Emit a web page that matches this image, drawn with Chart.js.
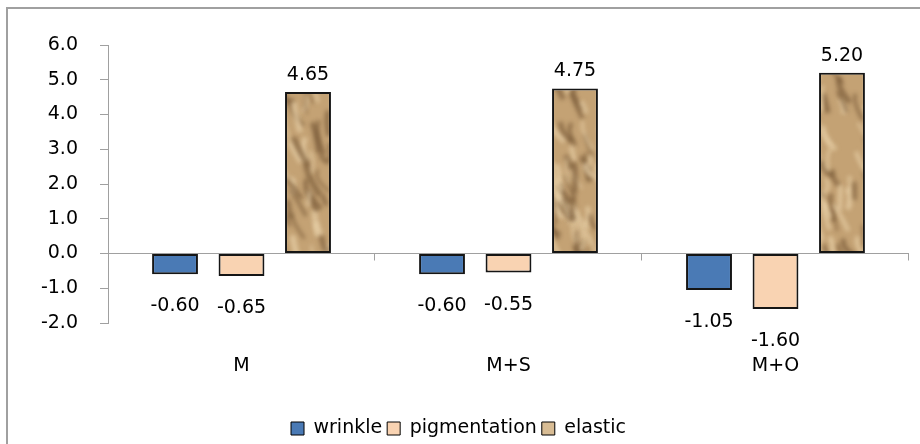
<!DOCTYPE html>
<html>
<head>
<meta charset="utf-8">
<script src="https://cdn.jsdelivr.net/npm/chart.js@4.4.1/dist/chart.umd.min.js"></script>
<style>
  html, body { margin: 0; padding: 0; background: #fff; overflow: hidden; }
  #wrap { position: relative; width: 920px; height: 444px; }
</style>
</head>
<body>
<div id="wrap"><canvas id="chart"></canvas></div>
<script>
const categories = ['M', 'M+S', 'M+O'];
const wrinkle = [-0.60, -0.60, -1.05];
const pigmentation = [-0.65, -0.55, -1.60];
const elastic = [4.65, 4.75, 5.20];
const yMin = -2;
const yMax = 6;

const FONT = '"DejaVu Sans", sans-serif';
const canvas = document.getElementById('chart');
const ctx = canvas.getContext('2d');

// brownish crumpled-paper look for the elastic bars (one tile covering the whole canvas, no seams)
function makeTexture() {
  const W = 920, H = 444;
  const c = document.createElement('canvas');
  c.width = W;
  c.height = H;
  const g = c.getContext('2d');
  g.fillStyle = '#C4A274';
  g.fillRect(0, 0, W, H);
  let s = 23;
  const rnd = () => (s = (s * 16807) % 2147483647) / 2147483647;
  g.filter = 'blur(2px)';
  for (let i = 0; i < 1800; i++) {
    const x = rnd() * W, y = rnd() * H;
    const dark = rnd() < 0.55;
    g.strokeStyle = dark ? 'rgba(95,65,35,0.5)' : 'rgba(235,212,172,0.65)';
    g.lineWidth = 2 + rnd() * 4;
    g.beginPath();
    g.moveTo(x, y);
    g.quadraticCurveTo(x + (rnd() - 0.5) * 14, y + 8, x + (rnd() - 0.2) * 20, y + 10 + rnd() * 22);
    g.stroke();
  }
  return ctx.createPattern(c, 'no-repeat');
}

const frame = {
  id: 'frame',
  beforeDraw(chart) {
    const c = chart.ctx;
    c.save();
    c.strokeStyle = '#A0A0A0';
    c.lineWidth = 2;
    c.beginPath();
    c.moveTo(7, chart.height);
    c.lineTo(7, 8);
    c.lineTo(chart.width, 8);
    c.stroke();
    c.restore();
  }
};

const zeroTicks = {
  id: 'zeroTicks',
  beforeDatasetsDraw(chart) {
    const x = chart.scales.x, y = chart.scales.y;
    const y0 = y.getPixelForValue(0);
    const c = chart.ctx;
    c.save();
    c.strokeStyle = '#A0A0A0';
    c.lineWidth = 1;
    for (let i = 1; i <= categories.length; i++) {
      const px = Math.round(x.left + i * x.width / categories.length) - 0.5;
      c.beginPath();
      c.moveTo(px, y0);
      c.lineTo(px, y0 + 7);
      c.stroke();
    }
    c.restore();
  }
};

const valueLabels = {
  id: 'valueLabels',
  afterDatasetsDraw(chart) {
    const c = chart.ctx;
    c.save();
    c.font = '19px ' + FONT;
    c.fillStyle = '#000';
    c.textAlign = 'center';
    c.textBaseline = 'middle';
    chart.data.datasets.forEach((ds, di) => {
      chart.getDatasetMeta(di).data.forEach((bar, i) => {
        const v = ds.data[i];
        const ty = v < 0 ? bar.y + 32 : bar.y - 17;
        c.fillText(v.toFixed(2), bar.x, ty);
      });
    });
    c.restore();
  }
};

const texture = makeTexture();

new Chart(ctx, {
  type: 'bar',
  data: {
    labels: categories,
    datasets: [
      { label: 'wrinkle', data: wrinkle, backgroundColor: '#4A7AB5' },
      { label: 'pigmentation', data: pigmentation, backgroundColor: '#F9D3B2' },
      { label: 'elastic', data: elastic, backgroundColor: texture }
    ]
  },
  options: {
    responsive: true,
    maintainAspectRatio: false,
    animation: false,
    devicePixelRatio: 1,
    layout: { padding: { left: 8, right: 11, top: 45, bottom: -4 } },
    datasets: {
      bar: {
        categoryPercentage: 0.747,
        barPercentage: 0.69,
        borderColor: '#151515',
        borderWidth: 2,
        borderSkipped: false
      }
    },
    plugins: {
      tooltip: { enabled: false },
      legend: {
        position: 'bottom',
        labels: {
          boxWidth: 13,
          boxHeight: 13,
          padding: 5,
          color: '#000',
          font: { family: FONT, size: 19 },
          generateLabels(chart) {
            const fills = ['#4A7AB5', '#F9D3B2', '#D8BC94'];
            return chart.data.datasets.map((ds, i) => ({
              text: ds.label,
              fillStyle: fills[i],
              strokeStyle: '#000',
              lineWidth: 1,
              datasetIndex: i,
              fontColor: '#000'
            }));
          }
        }
      }
    },
    scales: {
      x: {
        grid: { display: false },
        border: { display: false },
        ticks: { color: '#000', padding: 24, font: { family: FONT, size: 19 } },
        afterFit(scale) { scale.height = 91; }
      },
      y: {
        min: yMin,
        max: yMax,
        border: { display: true, color: '#A0A0A0' },
        grid: {
          color: c => (c.tick && c.tick.value === 0 ? '#A0A0A0' : 'rgba(0,0,0,0)'),
          tickColor: '#A0A0A0',
          tickLength: 8
        },
        ticks: {
          stepSize: 1,
          padding: 22,
          color: '#000',
          font: { family: FONT, size: 19 },
          callback: v => Number(v).toFixed(1)
        },
        afterFit(scale) { scale.width = 100; }
      }
    }
  },
  plugins: [frame, zeroTicks, valueLabels]
});
</script>
</body>
</html>
